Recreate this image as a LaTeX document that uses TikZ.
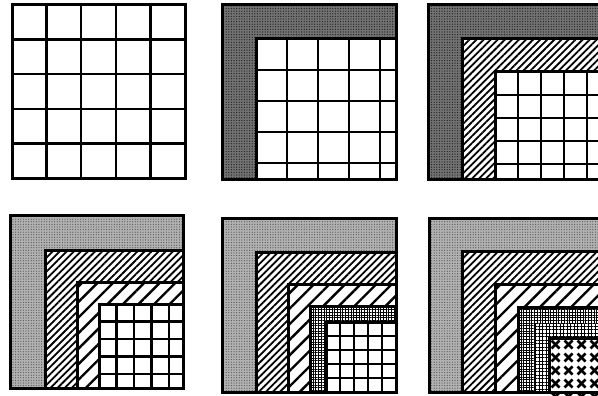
\documentclass[tikz,border=0pt]{standalone}
\usetikzlibrary{patterns.meta}

\begin{document}
\begin{tikzpicture}[x=1pt, y=-1pt,
  frame/.style={line width=3pt},
  gridline/.style={line width=2.4pt},
  bandline/.style={line width=3pt},
  outerdark/.style={fill=black!55, postaction={pattern={Dots[distance=2.6pt, radius=0.7pt]}, pattern color=black!85}},
  outerlight/.style={fill=black!30, postaction={pattern={Dots[distance=2.6pt, radius=0.65pt]}, pattern color=black!65}},
  finehatch/.style={pattern={Lines[angle=45, distance=5pt, line width=1.8pt]}},
  coarsehatch/.style={pattern={Lines[angle=45, distance=11pt, line width=2.4pt]}},
  finedots/.style={pattern={Hatch[angle=0, distance=2.7pt, line width=0.85pt]}},
  coarsedots/.style={pattern={Hatch[angle=0, distance=3.5pt, line width=0.95pt]}},
  cross/.style={line width=2.6pt},
]
\fill[white] (0,0) rectangle (598,396);
\clip (0,0) rectangle (598,396);

% plain mesh
\begin{scope}[shift={(12,5)}]
  \foreach \k in {34.6,69.2,103.8,138.4} {
    \draw[gridline] (\k,0) -- (\k,173);
    \draw[gridline] (0,\k) -- (173,\k);
  }
  \draw[frame] (0,0) rectangle (173,173);
\end{scope}

% one band
\begin{scope}[shift={(222,5)}]
  \path[outerdark] (0,0) rectangle (174,174);
  \fill[white] (34,34) rectangle (174,174);
  \foreach \k in {65,96,127,158} {
    \draw[gridline] (\k,34) -- (\k,174);
    \draw[gridline] (34,\k) -- (174,\k);
  }
  \draw[bandline] (34,174) |- (174,34);
  \draw[frame] (0,0) rectangle (174,174);
\end{scope}

% two bands
\begin{scope}[shift={(428,5)}]
  \path[outerdark] (0,0) rectangle (174,174);
  \fill[white] (34,34) rectangle (174,174);
  \path[finehatch] (34,34) rectangle (174,174);
  \fill[white] (67,67) rectangle (174,174);
  \foreach \k in {90,113,136,159} {
    \draw[gridline] (\k,67) -- (\k,174);
    \draw[gridline] (67,\k) -- (174,\k);
  }
  \draw[bandline] (34,174) |- (174,34);
  \draw[bandline] (67,174) |- (174,67);
  \draw[frame] (0,0) rectangle (174,174);
\end{scope}

% three bands
\begin{scope}[shift={(10,215)}]
  \path[outerlight] (0,0) rectangle (173,173);
  \fill[white] (35,35) rectangle (173,173);
  \path[finehatch] (35,35) rectangle (173,173);
  \fill[white] (67,67) rectangle (173,173);
  \path[coarsehatch] (67,67) rectangle (173,173);
  \fill[white] (89,89) rectangle (173,173);
  \foreach \k in {106.5,124,141.5,159} {
    \draw[gridline] (\k,89) -- (\k,173);
    \draw[gridline] (89,\k) -- (173,\k);
  }
  \draw[bandline] (35,173) |- (173,35);
  \draw[bandline] (67,173) |- (173,67);
  \draw[bandline] (89,173) |- (173,89);
  \draw[frame] (0,0) rectangle (173,173);
\end{scope}

% four bands
\begin{scope}[shift={(222,218)}]
  \path[outerlight] (0,0) rectangle (174,174);
  \fill[white] (34,34) rectangle (174,174);
  \path[finehatch] (34,34) rectangle (174,174);
  \fill[white] (66,66) rectangle (174,174);
  \path[coarsehatch] (66,66) rectangle (174,174);
  \fill[white] (88,88) rectangle (174,174);
  \path[finedots] (88,88) rectangle (174,174);
  \fill[white] (104,104) rectangle (174,174);
  \foreach \k in {118,132,146,160} {
    \draw[gridline] (\k,104) -- (\k,174);
    \draw[gridline] (104,\k) -- (174,\k);
  }
  \draw[bandline] (34,174) |- (174,34);
  \draw[bandline] (66,174) |- (174,66);
  \draw[bandline] (88,174) |- (174,88);
  \draw[bandline] (104,174) |- (174,104);
  \draw[frame] (0,0) rectangle (174,174);
\end{scope}

% five bands
\begin{scope}[shift={(429,218)}]
  \path[outerlight] (0,0) rectangle (174,174);
  \fill[white] (33,33) rectangle (174,174);
  \path[finehatch] (33,33) rectangle (174,174);
  \fill[white] (66,66) rectangle (174,174);
  \path[coarsehatch] (66,66) rectangle (174,174);
  \fill[white] (89,89) rectangle (174,174);
  \path[finedots] (89,89) rectangle (174,174);
  \fill[white] (106,106) rectangle (174,174);
  \path[coarsedots] (106,106) rectangle (174,174);
  \fill[white] (120,120) rectangle (174,174);
  \foreach \i in {0,...,4} {
    \foreach \j in {0,...,4} {
      \draw[cross] ({122.5+13*\i},{122.5+13*\j}) -- ++(8,8);
      \draw[cross] ({130.5+13*\i},{122.5+13*\j}) -- ++(-8,8);
    }
  }
  \draw[bandline] (33,174) |- (174,33);
  \draw[bandline] (66,174) |- (174,66);
  \draw[bandline] (89,174) |- (174,89);
  \draw[bandline] (120,174) |- (174,120);
  \draw[frame] (0,0) rectangle (174,174);
\end{scope}
\end{tikzpicture}
\end{document}
